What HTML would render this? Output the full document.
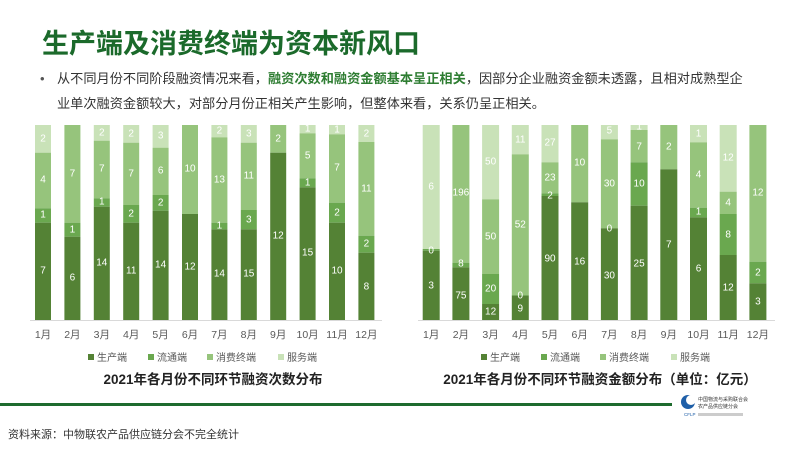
<!DOCTYPE html>
<html><head><meta charset="utf-8"><style>
body{margin:0;width:800px;height:450px;overflow:hidden;background:#fff;font-family:"Liberation Sans","Noto Sans CJK SC",sans-serif}
svg text{font-family:"Liberation Sans","Noto Sans CJK SC",sans-serif}
.l{fill:#fff;font-size:10px;text-anchor:middle;dominant-baseline:central}
.t{fill:#595959;font-size:10.5px;text-anchor:middle}
.g{fill:#595959;font-size:10px}
</style></head><body>
<svg width="800" height="450" viewBox="0 0 800 450">
<text x="42" y="53" font-size="27" font-weight="bold" fill="#1b6a2b">生产端及消费终端为资本新风口</text>
<text x="40" y="83" font-size="13" fill="#555">•</text>
<text x="57" y="83" font-size="13.2" fill="#333">从不同月份不同阶段融资情况来看，<tspan fill="#2e7d32" font-weight="bold">融资次数和融资金额基本呈正相关</tspan>，因部分企业融资金额未透露，且相对成熟型企</text>
<text x="57" y="108" font-size="13.2" fill="#333">业单次融资金额较大，对部分月份正相关产生影响，但整体来看，关系仍呈正相关。</text>

<g id="L">
<line x1="30" y1="320.5" x2="382" y2="320.5" stroke="#d9d9d9"/>
<rect x="35" y="125" width="16" height="27.7" fill="#c9e2b8"/><rect x="35" y="152.7" width="16" height="55.6" fill="#96c47c"/><rect x="35" y="208.3" width="16" height="14.4" fill="#6aa84f"/><rect x="35" y="222.7" width="16" height="97.3" fill="#548235"/>
<text class="l" x="43" y="139">2</text><text class="l" x="43" y="180">4</text><text class="l" x="43" y="215">1</text><text class="l" x="43" y="271">7</text>
<rect x="64.4" y="125" width="16" height="97.7" fill="#96c47c"/><rect x="64.4" y="222.7" width="16" height="14" fill="#6aa84f"/><rect x="64.4" y="236.7" width="16" height="83.3" fill="#548235"/>
<text class="l" x="72.4" y="174">7</text><text class="l" x="72.4" y="230">1</text><text class="l" x="72.4" y="278">6</text>
<rect x="93.8" y="125" width="16" height="15.7" fill="#c9e2b8"/><rect x="93.8" y="140.7" width="16" height="57.6" fill="#96c47c"/><rect x="93.8" y="198.3" width="16" height="8.4" fill="#6aa84f"/><rect x="93.8" y="206.7" width="16" height="113.3" fill="#548235"/>
<text class="l" x="101.8" y="133">2</text><text class="l" x="101.8" y="169">7</text><text class="l" x="101.8" y="202">1</text><text class="l" x="101.8" y="263">14</text>
<rect x="123.2" y="125" width="16" height="17.7" fill="#c9e2b8"/><rect x="123.2" y="142.7" width="16" height="62.3" fill="#96c47c"/><rect x="123.2" y="205" width="16" height="17.7" fill="#6aa84f"/><rect x="123.2" y="222.7" width="16" height="97.3" fill="#548235"/>
<text class="l" x="131.2" y="134">2</text><text class="l" x="131.2" y="174">7</text><text class="l" x="131.2" y="214">2</text><text class="l" x="131.2" y="271">11</text>
<rect x="152.6" y="125" width="16" height="22.7" fill="#c9e2b8"/><rect x="152.6" y="147.7" width="16" height="47.3" fill="#96c47c"/><rect x="152.6" y="195" width="16" height="15.7" fill="#6aa84f"/><rect x="152.6" y="210.7" width="16" height="109.3" fill="#548235"/>
<text class="l" x="160.6" y="136">3</text><text class="l" x="160.6" y="171">6</text><text class="l" x="160.6" y="203">2</text><text class="l" x="160.6" y="265">14</text>
<rect x="182" y="125" width="16" height="89" fill="#96c47c"/><rect x="182" y="214" width="16" height="106" fill="#548235"/>
<text class="l" x="190" y="169">10</text><text class="l" x="190" y="267">12</text>
<rect x="211.4" y="125" width="16" height="12.3" fill="#c9e2b8"/><rect x="211.4" y="137.3" width="16" height="85.4" fill="#96c47c"/><rect x="211.4" y="222.7" width="16" height="6.6" fill="#6aa84f"/><rect x="211.4" y="229.3" width="16" height="90.7" fill="#548235"/>
<text class="l" x="219.4" y="131">2</text><text class="l" x="219.4" y="180">13</text><text class="l" x="219.4" y="226">1</text><text class="l" x="219.4" y="274">14</text>
<rect x="240.8" y="125" width="16" height="17.7" fill="#c9e2b8"/><rect x="240.8" y="142.7" width="16" height="67.3" fill="#96c47c"/><rect x="240.8" y="210" width="16" height="19.3" fill="#6aa84f"/><rect x="240.8" y="229.3" width="16" height="90.7" fill="#548235"/>
<text class="l" x="248.8" y="134">3</text><text class="l" x="248.8" y="176">11</text><text class="l" x="248.8" y="220">3</text><text class="l" x="248.8" y="274">15</text>
<rect x="270.2" y="125" width="16" height="27.7" fill="#96c47c"/><rect x="270.2" y="152.7" width="16" height="167.3" fill="#548235"/>
<text class="l" x="278.2" y="139">2</text><text class="l" x="278.2" y="236">12</text>
<rect x="299.6" y="125" width="16" height="8.3" fill="#c9e2b8"/><rect x="299.6" y="133.3" width="16" height="45" fill="#96c47c"/><rect x="299.6" y="178.3" width="16" height="9" fill="#6aa84f"/><rect x="299.6" y="187.3" width="16" height="132.7" fill="#548235"/>
<text class="l" x="307.6" y="129">1</text><text class="l" x="307.6" y="156">5</text><text class="l" x="307.6" y="183">1</text><text class="l" x="307.6" y="253">15</text>
<rect x="329" y="125" width="16" height="9.3" fill="#c9e2b8"/><rect x="329" y="134.3" width="16" height="68.4" fill="#96c47c"/><rect x="329" y="202.7" width="16" height="20" fill="#6aa84f"/><rect x="329" y="222.7" width="16" height="97.3" fill="#548235"/>
<text class="l" x="337" y="130">1</text><text class="l" x="337" y="168">7</text><text class="l" x="337" y="213">2</text><text class="l" x="337" y="271">10</text>
<rect x="358.4" y="125" width="16" height="17" fill="#c9e2b8"/><rect x="358.4" y="142" width="16" height="93.7" fill="#96c47c"/><rect x="358.4" y="235.7" width="16" height="17" fill="#6aa84f"/><rect x="358.4" y="252.7" width="16" height="67.3" fill="#548235"/>
<text class="l" x="366.4" y="134">2</text><text class="l" x="366.4" y="189">11</text><text class="l" x="366.4" y="244">2</text><text class="l" x="366.4" y="287">8</text>
<g class="t"><text x="43" y="338">1月</text><text x="72.4" y="338">2月</text><text x="101.8" y="338">3月</text><text x="131.2" y="338">4月</text><text x="160.6" y="338">5月</text><text x="190" y="338">6月</text><text x="219.4" y="338">7月</text><text x="248.8" y="338">8月</text><text x="278.2" y="338">9月</text><text x="307.6" y="338">10月</text><text x="337" y="338">11月</text><text x="366.4" y="338">12月</text></g>
<rect x="88" y="354" width="6" height="6" fill="#548235"/><text class="g" x="97" y="361">生产端</text>
<rect x="148" y="354" width="6" height="6" fill="#6aa84f"/><text class="g" x="157" y="361">流通端</text>
<rect x="207" y="354" width="6" height="6" fill="#96c47c"/><text class="g" x="216" y="361">消费终端</text>
<rect x="278" y="354" width="6" height="6" fill="#c9e2b8"/><text class="g" x="287" y="361">服务端</text>
<text x="213" y="384" font-size="13.5" font-weight="bold" fill="#222" text-anchor="middle">2021年各月份不同环节融资次数分布</text>
</g>

<g id="R">
<line x1="418" y1="320.5" x2="775" y2="320.5" stroke="#d9d9d9"/>
<rect x="422.7" y="125" width="17" height="124" fill="#c9e2b8"/><rect x="422.7" y="249" width="17" height="1.7" fill="#6aa84f"/><rect x="422.7" y="250.7" width="17" height="69.3" fill="#548235"/>
<text class="l" x="431.2" y="187">6</text><text class="l" x="431.2" y="251">0</text><text class="l" x="431.2" y="286">3</text>
<rect x="452.4" y="125" width="17" height="137.7" fill="#96c47c"/><rect x="452.4" y="262.7" width="17" height="4.6" fill="#6aa84f"/><rect x="452.4" y="267.3" width="17" height="52.7" fill="#548235"/>
<text class="l" x="460.9" y="193">196</text><text class="l" x="460.9" y="264">8</text><text class="l" x="460.9" y="296">75</text>
<rect x="482.1" y="125" width="17" height="74.3" fill="#c9e2b8"/><rect x="482.1" y="199.3" width="17" height="74.7" fill="#96c47c"/><rect x="482.1" y="274" width="17" height="30" fill="#6aa84f"/><rect x="482.1" y="304" width="17" height="16" fill="#548235"/>
<text class="l" x="490.6" y="162">50</text><text class="l" x="490.6" y="237">50</text><text class="l" x="490.6" y="289">20</text><text class="l" x="490.6" y="312">12</text>
<rect x="511.8" y="125" width="17" height="29.3" fill="#c9e2b8"/><rect x="511.8" y="154.3" width="17" height="140.7" fill="#96c47c"/><rect x="511.8" y="295" width="17" height="0.7" fill="#6aa84f"/><rect x="511.8" y="295.7" width="17" height="24.3" fill="#548235"/>
<text class="l" x="520.3" y="140">11</text><text class="l" x="520.3" y="225">52</text><text class="l" x="520.3" y="296">0</text><text class="l" x="520.3" y="309">9</text>
<rect x="541.5" y="125" width="17" height="37.3" fill="#c9e2b8"/><rect x="541.5" y="162.3" width="17" height="31" fill="#96c47c"/><rect x="541.5" y="193.3" width="17" height="2.7" fill="#6aa84f"/><rect x="541.5" y="196" width="17" height="124" fill="#548235"/>
<text class="l" x="550" y="143">27</text><text class="l" x="550" y="178">23</text><text class="l" x="550" y="196">2</text><text class="l" x="550" y="259">90</text>
<rect x="571.2" y="125" width="17" height="77.3" fill="#96c47c"/><rect x="571.2" y="202.3" width="17" height="117.7" fill="#548235"/>
<text class="l" x="579.7" y="163">10</text><text class="l" x="579.7" y="262">16</text>
<rect x="600.9" y="125" width="17" height="14.3" fill="#c9e2b8"/><rect x="600.9" y="139.3" width="17" height="89" fill="#96c47c"/><rect x="600.9" y="228.3" width="17" height="91.7" fill="#548235"/>
<text class="l" x="609.4" y="131">5</text><text class="l" x="609.4" y="184">30</text><text class="l" x="609.4" y="229">0</text><text class="l" x="609.4" y="276">30</text>
<rect x="630.6" y="125" width="17" height="5" fill="#c9e2b8"/><rect x="630.6" y="130" width="17" height="32.3" fill="#96c47c"/><rect x="630.6" y="162.3" width="17" height="43.4" fill="#6aa84f"/><rect x="630.6" y="205.7" width="17" height="114.3" fill="#548235"/>
<text class="l" x="639.1" y="127">1</text><text class="l" x="639.1" y="147">7</text><text class="l" x="639.1" y="184">10</text><text class="l" x="639.1" y="264">25</text>
<rect x="660.3" y="125" width="17" height="44.3" fill="#96c47c"/><rect x="660.3" y="169.3" width="17" height="150.7" fill="#548235"/>
<text class="l" x="668.8" y="147">2</text><text class="l" x="668.8" y="245">7</text>
<rect x="690" y="125" width="17" height="17.3" fill="#c9e2b8"/><rect x="690" y="142.3" width="17" height="65.4" fill="#96c47c"/><rect x="690" y="207.7" width="17" height="9.6" fill="#6aa84f"/><rect x="690" y="217.3" width="17" height="102.7" fill="#548235"/>
<text class="l" x="698.5" y="134">1</text><text class="l" x="698.5" y="175">4</text><text class="l" x="698.5" y="212">1</text><text class="l" x="698.5" y="269">6</text>
<rect x="719.7" y="125" width="17" height="66.7" fill="#c9e2b8"/><rect x="719.7" y="191.7" width="17" height="22.3" fill="#96c47c"/><rect x="719.7" y="214" width="17" height="41" fill="#6aa84f"/><rect x="719.7" y="255" width="17" height="65" fill="#548235"/>
<text class="l" x="728.2" y="158">12</text><text class="l" x="728.2" y="203">4</text><text class="l" x="728.2" y="235">8</text><text class="l" x="728.2" y="288">12</text>
<rect x="749.4" y="125" width="17" height="136.7" fill="#96c47c"/><rect x="749.4" y="261.7" width="17" height="21.6" fill="#6aa84f"/><rect x="749.4" y="283.3" width="17" height="36.7" fill="#548235"/>
<text class="l" x="757.9" y="193">12</text><text class="l" x="757.9" y="273">2</text><text class="l" x="757.9" y="302">3</text>
<g class="t"><text x="431.2" y="338">1月</text><text x="460.9" y="338">2月</text><text x="490.6" y="338">3月</text><text x="520.3" y="338">4月</text><text x="550" y="338">5月</text><text x="579.7" y="338">6月</text><text x="609.4" y="338">7月</text><text x="639.1" y="338">8月</text><text x="668.8" y="338">9月</text><text x="698.5" y="338">10月</text><text x="728.2" y="338">11月</text><text x="757.9" y="338">12月</text></g>
<rect x="481" y="354" width="6" height="6" fill="#548235"/><text class="g" x="490" y="361">生产端</text>
<rect x="541" y="354" width="6" height="6" fill="#6aa84f"/><text class="g" x="550" y="361">流通端</text>
<rect x="600" y="354" width="6" height="6" fill="#96c47c"/><text class="g" x="609" y="361">消费终端</text>
<rect x="671" y="354" width="6" height="6" fill="#c9e2b8"/><text class="g" x="680" y="361">服务端</text>
<text x="600" y="384" font-size="13.5" font-weight="bold" fill="#222" text-anchor="middle">2021年各月份不同环节融资金额分布（单位：亿元）</text>
</g>

<rect x="0" y="403" width="672" height="3" fill="#1e6b2e"/>
<circle cx="688" cy="402" r="7" fill="#1f5fa8"/><circle cx="691" cy="400" r="5" fill="#fff"/>
<text x="698" y="401" font-size="5" fill="#333">中国物流与采购联合会</text>
<text x="698" y="408" font-size="5" fill="#333">农产品供应链分会</text>
<text x="684" y="416" font-size="4.5" fill="#1f5fa8">CFLP</text>
<rect x="698" y="413" width="45" height="3" fill="#ccc"/>
<text x="8" y="438" font-size="11" fill="#333">资料来源：中物联农产品供应链分会不完全统计</text>
</svg>
</body></html>
